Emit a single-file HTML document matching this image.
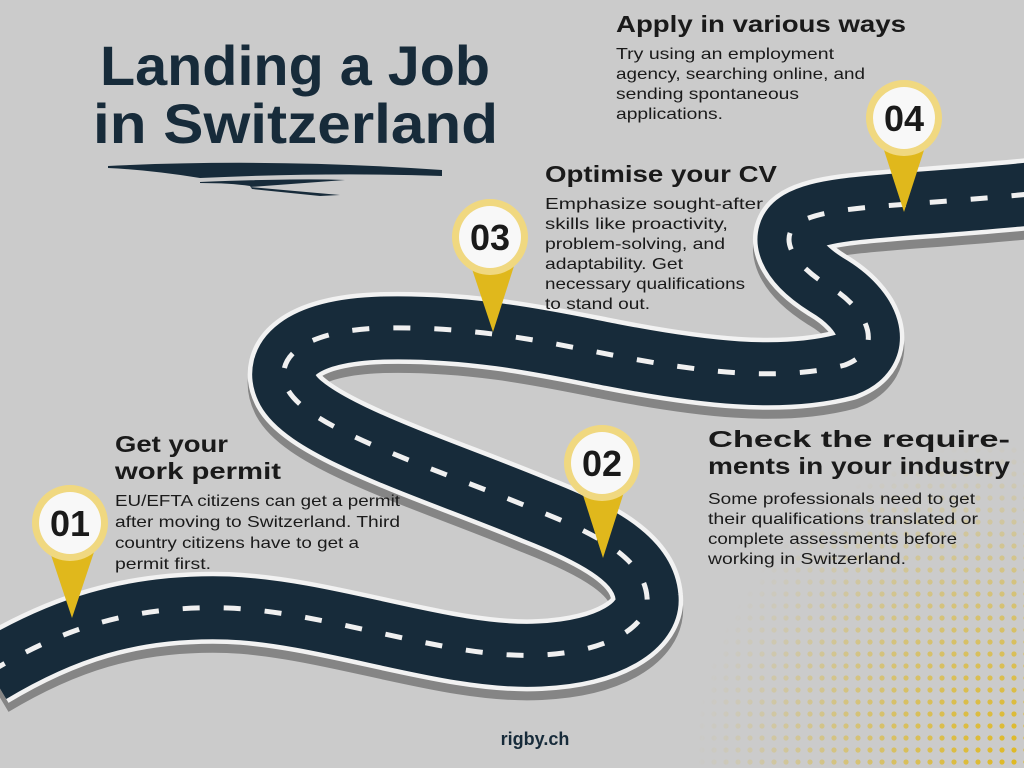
<!DOCTYPE html>
<html><head><meta charset="utf-8"><style>
html,body{margin:0;padding:0;background:#cbcbcb;}
svg{display:block;font-family:"Liberation Sans",sans-serif;}
</style></head><body>
<svg width="1024" height="768" viewBox="0 0 1024 768" xmlns="http://www.w3.org/2000/svg">
<defs>
<pattern id="dots" width="12" height="12" patternUnits="userSpaceOnUse">
<circle cx="6" cy="6" r="2.6" fill="#e0b81c"/>
</pattern>
<radialGradient id="fade" cx="1024" cy="768" r="330" gradientUnits="userSpaceOnUse">
<stop offset="0" stop-color="#fff" stop-opacity="1"/>
<stop offset="1" stop-color="#fff" stop-opacity="0"/>
</radialGradient>
<mask id="m"><rect width="1024" height="768" fill="url(#fade)"/></mask>
<path id="rp" d="M -10,672 C 60,630 130,605 228,608 C 330,612 450,660 540,655 C 610,652 650,625 647,597 C 644,560 600,535 536,510 C 440,470 310,430 288,390 C 272,360 300,330 384,328 C 480,326 560,345 612,355 C 700,372 780,382 845,365 C 885,350 870,310 827,285 C 790,262 778,235 800,222 C 830,205 900,207 1040,193"/>
</defs>
<rect width="1024" height="768" fill="#cbcbcb"/>
<rect x="680" y="430" width="344" height="338" fill="url(#dots)" mask="url(#m)"/>

<g fill="none" stroke-linejoin="round">
<use href="#rp" stroke="#858585" stroke-width="72" transform="translate(0,9)"/>
<use href="#rp" stroke="#f2f2f2" stroke-width="72"/>
<use href="#rp" stroke="#172b3a" stroke-width="63"/>
<use href="#rp" stroke="#f0f0f0" stroke-width="5" stroke-dasharray="17 24"/>
</g>

<g fill="#172b3a" font-weight="bold">
<text x="100" y="85" font-size="56" textLength="390" lengthAdjust="spacingAndGlyphs">Landing a Job</text>
<text x="93" y="143" font-size="56" textLength="405" lengthAdjust="spacingAndGlyphs">in Switzerland</text>
</g>
<path d="M108,166 Q270,158 442,170 L442,176 Q330,172 200,178 L200,182 Q300,178 345,180 L250,187 L340,195 L320,196 L252,189 L250,186 Q230,183 200,183 L200,178 Q150,170 108,168 Z" fill="#172b3a"/>

<g>
<path d="M50,552 L72,618 L94,552 Z" fill="#e0b81c"/>
<circle cx="70" cy="523" r="38" fill="#f0d880"/><circle cx="70" cy="523" r="31" fill="#f8f8f8"/>
<path d="M582,492 L603,558 L624,492 Z" fill="#e0b81c"/>
<circle cx="602" cy="463" r="38" fill="#f0d880"/><circle cx="602" cy="463" r="31" fill="#f8f8f8"/>
<path d="M471,266 L493,332 L514,266 Z" fill="#e0b81c"/>
<circle cx="490" cy="237" r="38" fill="#f0d880"/><circle cx="490" cy="237" r="31" fill="#f8f8f8"/>
<path d="M883,147 L904,212 L925,147 Z" fill="#e0b81c"/>
<circle cx="904" cy="118" r="38" fill="#f0d880"/><circle cx="904" cy="118" r="31" fill="#f8f8f8"/>
</g>
<g font-weight="bold" font-size="36" fill="#1a1a1a" text-anchor="middle">
<text x="70" y="536">01</text><text x="602" y="476">02</text><text x="490" y="250">03</text><text x="904" y="131">04</text>
</g>

<g fill="#1a1a1a">
<g font-weight="bold" font-size="23">
<text x="616" y="32" textLength="290" lengthAdjust="spacingAndGlyphs">Apply in various ways</text>
<text x="545" y="182" textLength="232" lengthAdjust="spacingAndGlyphs">Optimise your CV</text>
<text x="115" y="452" textLength="113" lengthAdjust="spacingAndGlyphs">Get your</text>
<text x="115" y="479" textLength="166" lengthAdjust="spacingAndGlyphs">work permit</text>
<text x="708" y="447" textLength="302" lengthAdjust="spacingAndGlyphs">Check the require-</text>
<text x="708" y="474" textLength="302" lengthAdjust="spacingAndGlyphs">ments in your industry</text>
<text x="535" y="745" font-size="18" text-anchor="middle" fill="#172b3a">rigby.ch</text>
</g>
<g font-size="16">
<text x="616" y="59" textLength="218" lengthAdjust="spacingAndGlyphs">Try using an employment</text>
<text x="616" y="79" textLength="249" lengthAdjust="spacingAndGlyphs">agency, searching online, and</text>
<text x="616" y="99" textLength="183" lengthAdjust="spacingAndGlyphs">sending spontaneous</text>
<text x="616" y="119" textLength="107" lengthAdjust="spacingAndGlyphs">applications.</text>

<text x="545" y="209" textLength="218" lengthAdjust="spacingAndGlyphs">Emphasize sought-after</text>
<text x="545" y="229" textLength="183" lengthAdjust="spacingAndGlyphs">skills like proactivity,</text>
<text x="545" y="249" textLength="180" lengthAdjust="spacingAndGlyphs">problem-solving, and</text>
<text x="545" y="269" textLength="138" lengthAdjust="spacingAndGlyphs">adaptability. Get</text>
<text x="545" y="289" textLength="200" lengthAdjust="spacingAndGlyphs">necessary qualifications</text>
<text x="545" y="309" textLength="105" lengthAdjust="spacingAndGlyphs">to stand out.</text>

<text x="115" y="506" textLength="285" lengthAdjust="spacingAndGlyphs">EU/EFTA citizens can get a permit</text>
<text x="115" y="527" textLength="285" lengthAdjust="spacingAndGlyphs">after moving to Switzerland. Third</text>
<text x="115" y="548" textLength="244" lengthAdjust="spacingAndGlyphs">country citizens have to get a</text>
<text x="115" y="569" textLength="96" lengthAdjust="spacingAndGlyphs">permit first.</text>

<text x="708" y="504" textLength="267" lengthAdjust="spacingAndGlyphs">Some professionals need to get</text>
<text x="708" y="524" textLength="270" lengthAdjust="spacingAndGlyphs">their qualifications translated or</text>
<text x="708" y="544" textLength="249" lengthAdjust="spacingAndGlyphs">complete assessments before</text>
<text x="708" y="564" textLength="198" lengthAdjust="spacingAndGlyphs">working in Switzerland.</text>
</g>
</g>
</svg>
</body></html>
